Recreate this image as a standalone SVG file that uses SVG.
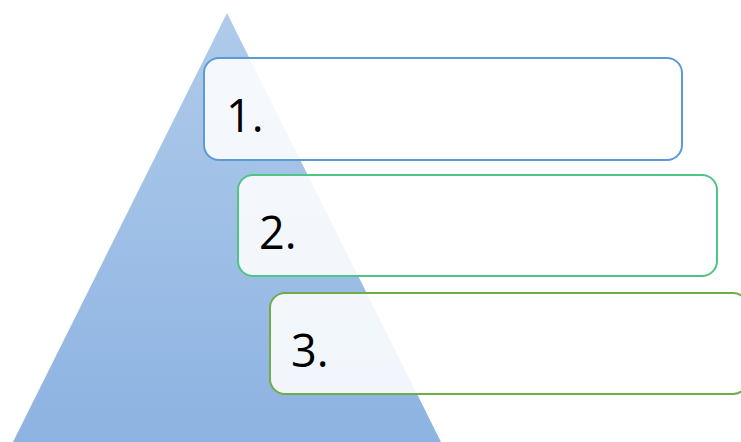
<svg xmlns="http://www.w3.org/2000/svg" width="741" height="442" viewBox="0 0 741 442">
<defs>
<linearGradient id="tri" x1="0" y1="0" x2="0" y2="1">
<stop offset="0" stop-color="#b0cbea"/>
<stop offset="1" stop-color="#8db3e2"/>
</linearGradient>
<style>
.box{fill:#ffffff;fill-opacity:0.88;stroke-width:2}
.lbl{font-family:"Open Sans","Noto Sans",sans-serif;font-size:45px;fill:#000}
</style>
</defs>
<rect width="741" height="442" fill="#ffffff"/>
<g id="pyramid"><polygon points="227,13 441,442 13,442" fill="url(#tri)"/></g>
<g id="node1"><rect class="box" x="204" y="58" width="478" height="102" rx="15" stroke="#5b9bd5"/><text class="lbl" x="226" y="132">1.</text></g>
<g id="node2"><rect class="box" x="238" y="175" width="479" height="101" rx="15" stroke="#4fc486"/><text class="lbl" x="259" y="249">2.</text></g>
<g id="node3"><rect class="box" x="270" y="293" width="478" height="101" rx="15" stroke="#70ad47"/><text class="lbl" x="291" y="367">3.</text></g>
<g id="connectors"/>
</svg>
